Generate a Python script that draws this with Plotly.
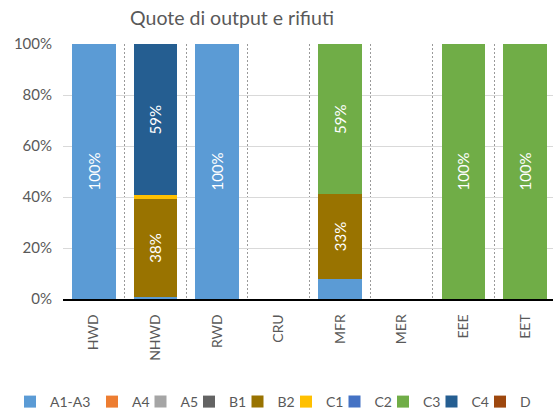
import plotly.graph_objects as go

categories = ["HWD", "NHWD", "RWD", "CRU", "MFR", "MER", "EEE", "EET"]
series_names = ["A1-A3", "A4", "A5", "B1", "B2", "C1", "C2", "C3", "C4", "D"]
a1_a3 = [100, 0.8, 100, 0, 8, 0, 0, 0]
a4 = [0, 0, 0, 0, 0, 0, 0, 0]
a5 = [0, 0, 0, 0, 0, 0, 0, 0]
b1 = [0, 0, 0, 0, 0, 0, 0, 0]
b2 = [0, 38.4, 0, 0, 33, 0, 0, 0]
c1 = [0, 1.4, 0, 0, 0, 0, 0, 0]
c2 = [0, 0, 0, 0, 0, 0, 0, 0]
c3 = [0, 0, 0, 0, 59, 0, 100, 100]
c4 = [0, 59.4, 0, 0, 0, 0, 0, 0]
d = [0, 0, 0, 0, 0, 0, 0, 0]
series_values = [a1_a3, a4, a5, b1, b2, c1, c2, c3, c4, d]
colors = ["#5B9BD5", "#ED7D31", "#A5A5A5", "#636363", "#997300",
          "#FFC000", "#4472C4", "#70AD47", "#255E91", "#9E480E"]
y_tick_vals = [0, 0.2, 0.4, 0.6, 0.8, 1.0]

FONT = "Lato"
GREY = "#595959"

W, H = 553, 414
L, R, T, B = 63, 0, 44, 115
pw = W - L - R
ph = H - T - B

def px2x(p):
    return (p - L) / pw

def py2y(p):
    return (H - B - p) / ph

n = len(series_names)
legend_ids = ["legend"] + [f"legend{i + 1}" for i in range(1, n)]
# legend entry start positions in px (one single-entry legend per series)
first_x, second_x, pitch = 10, 92, 48.5
legend_px = [first_x] + [second_x + k * pitch for k in range(n - 1)]

fig = go.Figure()
for name, vals, col, lg in zip(series_names, series_values, colors, legend_ids):
    fig.add_trace(go.Bar(
        name=name,
        x=categories,
        y=[v / 100 for v in vals],
        marker=dict(color=col, line=dict(width=0)),
        text=[f"{round(v)}%" if v >= 10 else "" for v in vals],
        textposition="inside",
        textangle=-90,
        insidetextanchor="middle",
        textfont=dict(color="white", size=15, family=FONT),
        legend=lg,
    ))

legend_layout = {}
for lg, xp in zip(legend_ids, legend_px):
    legend_layout[lg] = dict(
        orientation="h",
        font=dict(family=FONT, size=14, color=GREY),
        bgcolor="rgba(0,0,0,0)",
        borderwidth=0,
        yanchor="middle",
        y=py2y(402),
        xanchor="left",
        x=px2x(xp),
    )

fig.update_layout(
    width=W, height=H,
    margin=dict(l=L, r=R, t=T, b=B, autoexpand=False),
    barmode="stack",
    bargap=0.29,
    plot_bgcolor="white",
    paper_bgcolor="white",
    font=dict(family=FONT, color=GREY),
    title=dict(
        text="Quote di output e rifiuti",
        font=dict(family=FONT, size=19.5, color=GREY),
        x=232 / W, xanchor="center",
        y=1 - 18 / H, yanchor="middle",
        xref="container", yref="container",
    ),
    xaxis=dict(
        type="category",
        range=[-0.5, 7.455],
        tickangle=-90,
        tickfont=dict(family=FONT, size=14, color=GREY),
        showline=True, linecolor="black", linewidth=1.5,
        showgrid=True, gridcolor="#9a9a9a", gridwidth=1.2, griddash="2px,2px",
        tickson="boundaries",
        ticks="", ticklabelstandoff=8,
        automargin=False,
        fixedrange=True,
    ),
    yaxis=dict(
        range=[0, 1],
        tickvals=y_tick_vals,
        tickformat=".0%",
        tickfont=dict(family=FONT, size=15, color=GREY),
        showgrid=True, gridcolor="#d9d9d9", gridwidth=1,
        zeroline=False, showline=False,
        ticks="", ticklabelstandoff=10,
        automargin=False,
        fixedrange=True,
    ),
    showlegend=True,
    **legend_layout,
)

fig.write_html(
    "out.html",
    config={"displayModeBar": False},
    post_script="document.body.style.margin='0';document.body.style.overflow='hidden';",
)
